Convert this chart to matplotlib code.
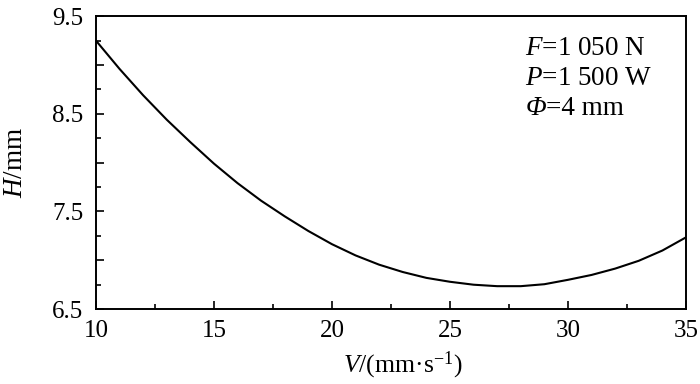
import numpy as np
import matplotlib.pyplot as plt
from matplotlib.ticker import MultipleLocator, FixedLocator

plt.rcParams['font.family'] = ['Liberation Serif', 'DejaVu Serif']
plt.rcParams['mathtext.fontset'] = 'custom'
plt.rcParams['mathtext.rm'] = 'Liberation Serif'
plt.rcParams['mathtext.it'] = 'Liberation Serif:italic'

# welding speed V (mm/s) and bead height H (mm)
speed = [10, 11, 12, 13, 14, 15, 16, 17, 18, 19, 20, 21, 22,
         23, 24, 25, 26, 27, 28, 29, 30, 31, 32, 33, 34, 35]
height = [9.25, 8.96, 8.69, 8.44, 8.21, 7.99, 7.79, 7.61, 7.45, 7.30,
          7.165, 7.05, 6.955, 6.88, 6.82, 6.78, 6.75, 6.735, 6.735,
          6.755, 6.80, 6.85, 6.915, 6.995, 7.10, 7.235]

y_ticks = [6.5, 7.0, 7.5, 8.0, 8.5, 9.0, 9.5]
y_labels = ['6.5', '', '7.5', '', '8.5', '', '9.5']

fig = plt.figure(figsize=(7, 3.84), dpi=100)
ax = fig.add_axes([0.137, 0.195, 0.843, 0.763])

ax.plot(speed, height, color='black', lw=1.5)

ax.set_xlim(10, 35)
ax.set_ylim(6.5, 9.5)
ax.xaxis.set_major_locator(MultipleLocator(5))
ax.xaxis.set_minor_locator(MultipleLocator(2.5))
ax.yaxis.set_major_locator(FixedLocator(y_ticks))
ax.set_yticklabels(y_labels)
ax.yaxis.set_minor_locator(MultipleLocator(0.25))

ax.tick_params(which='both', direction='in', top=False, right=False,
               labelsize=18, width=1.2)
ax.tick_params(which='major', length=6)
ax.tick_params(which='minor', length=3.5)
ax.tick_params(axis='y', pad=9)
ax.tick_params(axis='x', pad=8)
for sp in ax.spines.values():
    sp.set_linewidth(1.4)

ax.set_xlabel('$V$/(mm\u00b7s$^{-1}$)', fontsize=18.5)
ax.xaxis.set_label_coords(0.52, -0.14)
ax.set_ylabel('$H$/mm', fontsize=19.5)
ax.yaxis.set_label_coords(-0.115, 0.5)

# parameter notes, top right
fs = 19.5
ax.text(0.728, 0.867, '$F$=1 050 N', transform=ax.transAxes,
        ha='left', va='baseline', fontsize=fs)
ax.text(0.728, 0.764, '$P$=1 500 W', transform=ax.transAxes,
        ha='left', va='baseline', fontsize=fs)
phi = ax.text(0.728, 0.662, '\u03a6', transform=ax.transAxes,
              ha='left', va='baseline', fontsize=fs, style='italic')
ax.annotate('=4 mm', xy=(1, 0), xycoords=phi, ha='left', va='bottom',
            fontsize=fs)

fig.savefig('out.png', dpi=100)
